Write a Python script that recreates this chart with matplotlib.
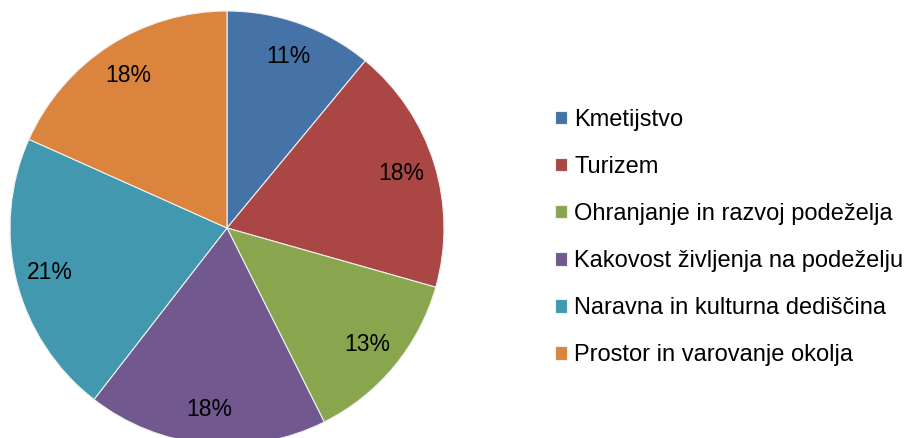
import matplotlib.pyplot as plt

plt.rcParams["font.family"] = ["Liberation Sans", "DejaVu Sans"]

# =========================
# Data
# =========================

CATEGORIES = [
    "Kmetijstvo",
    "Turizem",
    "Ohranjanje in razvoj podeželja",
    "Kakovost življenja na podeželju",
    "Naravna in kulturna dediščina",
    "Prostor in varovanje okolja",
]
SHARES = [11.0, 18.4, 13.2, 17.9, 21.2, 18.3]
COLORS = ["#4572A7", "#AA4643", "#89A54E", "#71588F", "#4198AF", "#DB843D"]


def main():
    fig = plt.figure(figsize=(9.1, 4.38), dpi=100)
    # pie axes placed in pixels: centre (227, 228), radius 217
    ax = fig.add_axes([10 / 910, (438 - 228 - 217) / 438, 434 / 910, 434 / 438])

    wedges, texts, autotexts = ax.pie(
        SHARES,
        colors=COLORS,
        startangle=90,
        counterclock=False,
        autopct="%.0f%%",
        pctdistance=0.84,
        wedgeprops={"edgecolor": "#f0f0f0", "linewidth": 0.8},
        textprops={"fontsize": 16.5, "color": "black"},
    )
    ax.set_xlim(-1, 1)
    ax.set_ylim(-1, 1)
    ax.set_aspect("equal")

    fig.legend(
        wedges,
        CATEGORIES,
        loc="center left",
        bbox_to_anchor=(543 / 910, (438 - 237.5) / 438),
        frameon=False,
        fontsize=17,
        borderpad=0,
        handlelength=0.52,
        handleheight=0.52,
        handletextpad=0.3,
        labelspacing=1.06,
    )

    fig.savefig("out.png", dpi=100)
    plt.close(fig)


if __name__ == "__main__":
    main()
